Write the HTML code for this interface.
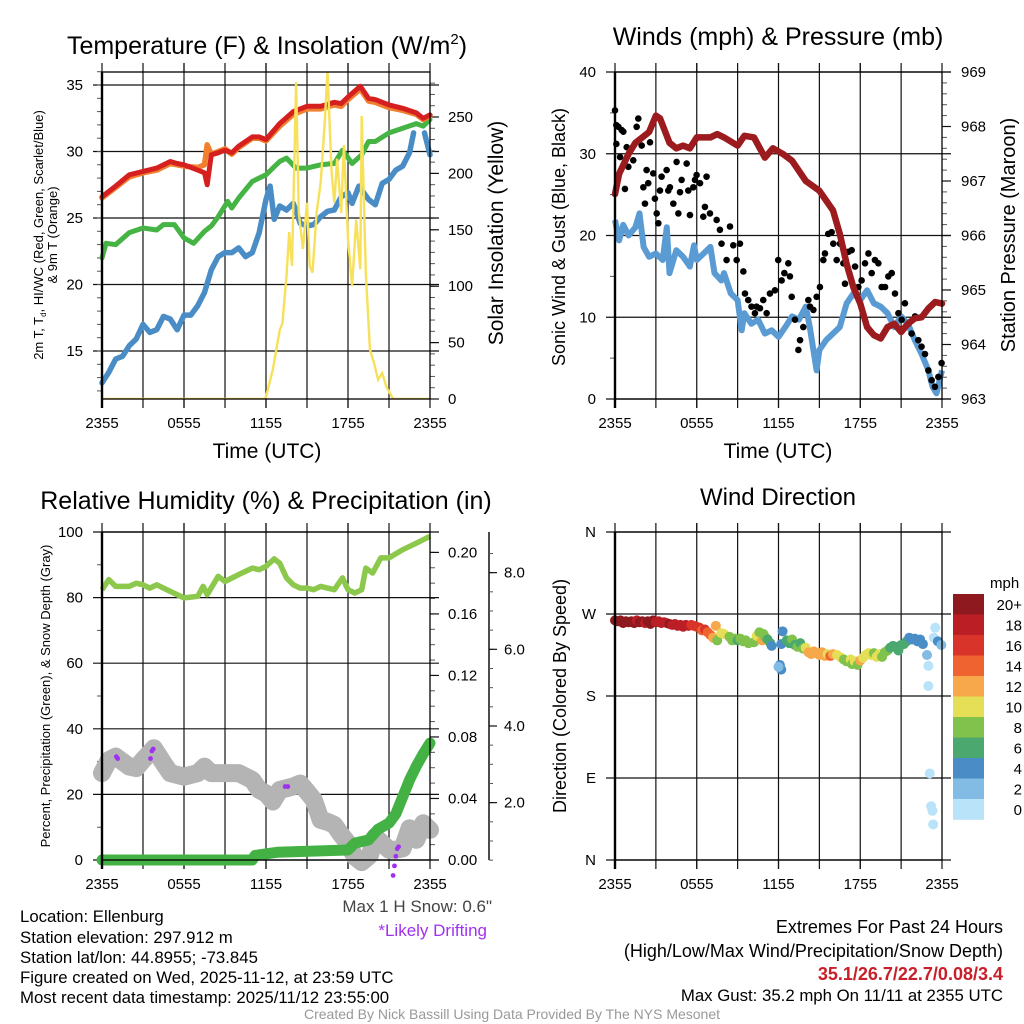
<!DOCTYPE html>
<html><head><meta charset="utf-8">
<style>
html,body{margin:0;padding:0;background:#fff;}
svg{display:block;font-family:"Liberation Sans",Arial,sans-serif;}
</style></head>
<body>
<svg id="fig" width="1024" height="1024" viewBox="0 0 1024 1024" xmlns="http://www.w3.org/2000/svg">
<rect width="1024" height="1024" fill="#fff"/>
<g id="g1"></g>
<g id="g2"></g>
<g id="g3"></g>
<g id="g4"></g>

<text x="267" y="54" font-size="25" text-anchor="middle">Temperature (F) &amp; Insolation (W/m<tspan font-size="15" dy="-10">2</tspan><tspan dy="10">)</tspan></text>
<text x="778" y="45" font-size="25" text-anchor="middle">Winds (mph) &amp; Pressure (mb)</text>
<text x="266" y="509" font-size="25" text-anchor="middle">Relative Humidity (%) &amp; Precipitation (in)</text>
<text x="778" y="505" font-size="24" text-anchor="middle">Wind Direction</text>

<text x="267" y="458" font-size="21" text-anchor="middle">Time (UTC)</text>
<text x="778" y="458" font-size="21" text-anchor="middle">Time (UTC)</text>

<text transform="translate(43,235) rotate(-90)" font-size="13" text-anchor="middle">2m T, T<tspan font-size="8" dy="3">d</tspan><tspan dy="-3">, HI/WC (Red, Green, Scarlet/Blue)</tspan></text>
<text transform="translate(57,235) rotate(-90)" font-size="13" text-anchor="middle">&amp; 9m T (Orange)</text>
<text transform="translate(503,233) rotate(-90)" font-size="21" text-anchor="middle">Solar Insolation (Yellow)</text>
<text transform="translate(565,237) rotate(-90)" font-size="18" text-anchor="middle">Sonic Wind &amp; Gust (Blue, Black)</text>
<text transform="translate(1015,235) rotate(-90)" font-size="20" text-anchor="middle">Station Pressure (Maroon)</text>
<text transform="translate(50,696) rotate(-90)" font-size="13" text-anchor="middle">Percent, Precipitation (Green), &amp; Snow Depth (Gray)</text>
<text transform="translate(566,696) rotate(-90)" font-size="18" text-anchor="middle">Direction (Colored By Speed)</text>

<text x="492" y="912" font-size="17" fill="#444" text-anchor="end">Max 1 H Snow: 0.6"</text>
<text x="487" y="936" font-size="17" fill="#a030f0" text-anchor="end">*Likely Drifting</text>

<g font-size="16.8">
<text x="20" y="922">Location: Ellenburg</text>
<text x="20" y="943">Station elevation: 297.912 m</text>
<text x="20" y="963">Station lat/lon: 44.8955; -73.845</text>
<text x="20" y="983">Figure created on Wed, 2025-11-12, at 23:59 UTC</text>
<text x="20" y="1003">Most recent data timestamp: 2025/11/12 23:55:00</text>
</g>
<g text-anchor="end">
<text x="1003" y="933" font-size="18">Extremes For Past 24 Hours</text>
<text x="1003" y="957" font-size="18">(High/Low/Max Wind/Precipitation/Snow Depth)</text>
<text x="1003" y="980" font-size="18" fill="#c8202a" font-weight="bold">35.1/26.7/22.7/0.08/3.4</text>
<text x="1003" y="1001" font-size="16.8">Max Gust: 35.2 mph On 11/11 at 2355 UTC</text>
</g>
<text x="512" y="1019" font-size="14" fill="#999" text-anchor="middle">Created By Nick Bassill Using Data Provided By The NYS Mesonet</text>
</svg>
<script>
// ---------- data ----------
const xTickLabels = ["2355","0555","1155","1755","2355"];
// Temperature panel
const tHours = [0,1,2,3,4,5,5.5,6,7,7.5,7.7,8,8.5,9,9.5,10,11,11.5,12,13,14,15,16,17,17.5,18,18.9,19.5,20,21,22,23,23.5,24];
const tempRed = [26.6,27.4,28.25,28.5,28.75,29.25,29.1,29.0,28.6,28.4,27.5,29.75,29.9,30.1,29.9,30.4,31.1,31.1,30.9,32.1,33.0,33.4,33.4,33.7,33.6,34.1,34.9,34.0,33.9,33.5,33.25,32.9,32.5,32.75];
const temp9m = [26.5,27.3,28.1,28.4,28.6,29.1,29.0,28.9,28.8,29.0,30.5,29.8,30.0,30.2,29.8,30.3,31.0,31.0,30.8,31.9,32.8,33.2,33.2,33.5,33.4,33.9,34.7,33.8,33.7,33.3,33.1,32.8,32.4,32.7];
const tdHours = [0,0.3,1,2,3,4,4.5,5.3,6,6.7,7.5,8,8.5,9.2,9.5,10,11,12,12.5,13,13.5,14.2,15,16,17,17.6,18.3,19,19.5,20,21,22,23,23.5,24];
const dewpt = [22.0,23.1,23.0,23.9,24.25,24.1,24.5,24.5,23.5,23.1,24.0,24.4,25.1,26.25,25.75,26.5,27.75,28.25,28.75,29.25,29.5,28.75,28.75,29.0,29.1,30.1,29.1,29.75,30.75,30.75,31.4,31.75,32.1,31.9,32.4];
const wcHours = [0,0.5,1,1.5,2,2.5,3,3.5,4,4.5,5,5.5,6,6.5,7,7.5,8,8.5,9,9.5,10,10.5,11,11.5,12,12.3,12.6,13,13.5,14,14.5,15,15.5,16,16.5,17,17.5,18,18.3,18.8,19.5,20,20.5,21,21.5,22,22.5,22.8,23.2,23.6,24];
const windChill = [12.6,13.4,14.4,14.6,15.4,15.9,17.0,16.4,16.6,17.6,17.4,16.6,17.7,17.7,18.4,19.4,21.1,22.1,22.4,22.4,22.75,22.1,22.4,23.9,26.4,27.4,24.9,25.9,25.6,26.1,24.6,24.4,24.5,25.1,25.5,25.6,26.6,26.9,26.1,27.4,26.4,26.0,27.6,27.9,28.6,28.9,29.9,31.4,NaN,31.4,29.75];
const solHours = [0,11.9,12,12.5,13,13.2,13.5,13.7,13.9,14.2,14.4,14.7,15,15.2,15.4,15.7,16,16.3,16.5,16.8,17,17.2,17.5,17.7,18,18.3,18.6,18.9,19,19.3,19.6,19.9,20.2,20.5,20.8,21.3,24];
const solar = [0,0,2,26,61,67,109,148,118,281,165,133,174,118,112,165,192,246,291,201,174,213,165,225,142,100,159,115,251,112,44,32,17,23,11,0,0];
// Wind panel
const presHours = [0,0.3,1,1.5,2,2.5,3,3.3,4,4.5,5,5.5,6,7,7.5,8,9,9.5,10.2,11,11.6,12.3,13,14,15,15.5,16,16.5,17,17.5,18,18.5,19,19.5,20,20.5,21,21.5,22,22.5,23,23.5,24];
const pressure = [966.76,967.13,967.5,967.7,967.8,967.9,968.2,968.15,967.7,967.6,967.65,967.6,967.8,967.8,967.86,967.8,967.65,967.83,967.8,967.43,967.6,967.5,967.37,967.0,966.82,966.64,966.46,966.03,965.48,965.05,964.75,964.32,964.17,964.11,964.32,964.38,964.23,964.38,964.48,964.5,964.66,964.78,964.75];
const wsHours = [0,0.3,0.6,1,1.5,1.8,2.1,2.5,3,3.5,3.8,4,4.5,5,5.5,5.8,6,6.5,7,7.3,7.8,8,8.5,9,9.3,9.5,10,10.5,11,11.5,12,12.5,13,13.5,14,14.3,14.8,15,15.5,16,16.5,17,17.5,18,18.5,19,19.5,20,20.5,21,21.5,22,22.5,23,23.3,23.6,24];
const windSpeed = [21.9,19.4,21.3,20,21,22.7,18.6,17.4,17.8,17.0,21,15.4,18.2,17.4,16.2,18.8,17,17.8,18.6,15.4,14.5,15.4,12.9,12.1,8.4,10.5,9.2,9.7,8.0,8.4,7.6,8.8,10.1,9.7,11.3,8.8,3.5,6,7.2,8.0,8.8,11.7,12.9,12.1,13.3,11.7,11.3,10.5,8.8,10.1,9.2,7.2,5.5,3.5,1.5,0.7,3.5];
const gustHours = [0,0.1,0.1,0.25,0.37,0.49,0.61,0.73,0.86,0.98,1.34,1.59,1.71,1.96,2.08,2.2,2.32,2.44,2.57,2.81,2.93,3.06,3.18,3.3,3.42,3.79,3.91,4.03,4.28,4.52,4.65,4.77,4.89,5.26,5.38,5.5,5.75,5.87,5.99,6.24,6.48,6.6,6.72,6.97,7.46,7.7,7.82,8.19,8.44,8.68,8.93,9.17,9.42,9.54,9.78,10.02,10.27,10.39,10.64,10.88,11.13,11.37,11.74,11.98,12.23,12.43,12.72,12.84,12.97,13.21,13.46,13.58,13.82,14.19,14.31,14.56,14.8,15.04,15.29,15.41,15.65,15.9,16.02,16.27,16.51,16.76,16.88,17.13,17.37,17.62,17.86,18.1,18.35,18.6,18.84,19.08,19.33,19.57,19.82,20.06,20.31,20.55,20.8,21.04,21.28,21.53,21.77,22.02,22.26,22.5,22.75,23.0,23.24,23.48,23.73,23.97];
const gust = [35.3,33.5,31.2,33.3,29.6,32.9,32.7,25.7,30.8,28.4,29.2,33.3,34.3,31.0,25.9,23.9,28,26.4,31.4,27.6,24.5,22.7,21.5,25.5,27.2,28,25.5,25.9,23.9,29,22.7,25.3,26.8,28.8,25.5,22.5,25.9,26.8,27.4,26.4,22.3,23.5,27.2,22.7,21.9,20.7,19,17,21.1,18.8,17,19,15.6,12.9,12.1,11.3,10.5,11.3,11.1,12.1,10.5,12.9,13.3,17,14.5,15.4,16.6,15,12.5,9.7,6,7.2,8.8,12.1,11.3,10.9,12.5,13.7,17,17.8,20.2,20.4,19,17,19,16.6,14.1,18,18.2,16.2,13.7,14.5,16.6,17.8,15.4,17,16.6,13.7,13.7,15,15.4,12.9,10.5,9.7,11.7,9.2,8.0,10.1,7.2,6.4,5.5,3.5,2.3,1.5,2.7,4.4,5.4];
// Humidity panel
const rhHours = [0,0.5,1,2,2.5,3,3.5,4,4.5,5,6,7,7.4,7.7,8.5,9,10,11,11.5,12,12.6,13,13.5,14,14.5,15,15.5,16,16.5,17,17.6,18,18.5,19,19.3,19.8,20.4,21,22,23,24];
const rh = [82.4,85.5,83.4,83.4,84.4,83.9,82.9,83.9,82.9,81.9,79.9,80.4,83.4,80.9,86.5,84.9,87.0,89.0,88.5,89.5,91.8,90.5,86.0,83.9,82.9,82.9,82.4,83.4,82.9,82.4,86.0,82.4,81.4,82.4,89.0,87.5,92.1,92.1,94.6,96.6,98.7];
const snowHours = [0,0.5,1,2,2.5,3,3.8,4.5,5,6,7,7.5,8,9,10,11,11.5,12,12.5,13,14,14.5,15,15.5,16,16.5,17,17.5,18,18.5,19,19.6,20,20.5,21,21.5,22,22.5,23,23.5,24];
const snowDepth = [2.77,3.11,3.2,2.94,2.9,3.11,3.42,3.03,2.77,2.68,2.77,2.94,2.77,2.77,2.77,2.59,2.33,2.24,2.03,2.33,2.42,2.5,2.29,2.07,1.55,1.5,1.42,1.16,0.94,0.59,0.45,0.63,1.11,0.94,0.77,0.77,0.81,1.33,1.03,1.46,1.29];
const precHours = [0,11,11.2,12.8,18,18.5,19.5,20.2,21,21.5,22,22.5,23,23.5,24];
const precip = [0,0,0.003,0.005,0.0065,0.011,0.013,0.02,0.024,0.03,0.041,0.052,0.061,0.069,0.076];
const driftHours = [1.05,1.15,3.55,3.65,3.75,13.4,13.6,21.3,21.4,21.5,21.6,21.7];
const driftDepth = [3.2,3.15,3.15,3.35,3.4,2.42,2.42,0.1,0.35,0.6,0.8,0.85];
// Wind direction panel
const wdHours = [0,0.2,0.4,0.6,0.8,1,1.2,1.4,1.6,1.8,2,2.2,2.4,2.6,2.8,3,3.2,3.4,3.6,3.8,4,4.2,4.4,4.6,4.8,5,5.2,5.4,5.6,5.8,6,6.2,6.4,6.6,6.8,7,7.2,7.4,7.5,7.8,8,8.4,8.6,8.8,9,9.2,9.4,9.6,9.8,10.2,10.4,10.6,10.8,10.9,11,11.2,11.4,11.5,12.2,12.3,12.1,12.2,12,12.6,12.8,13,13.2,13.4,13.6,13.8,14,14.2,14.4,14.6,14.8,15,15.2,15.4,15.6,15.8,16,16.3,16.6,16.8,17,17.3,17.4,17.6,17.8,18,18.2,18.4,18.6,18.8,19,19.2,19.4,19.6,19.8,20,20.2,20.4,20.6,20.8,21,21.2,21.4,21.6,21.8,22,22.2,22.4,22.6,22.9,23,23,23.5,23.4,23.7,23.95,23.1,23.2,23.3,23.35];
const wdDeg = [263,262,263,260,262,261,262,260,263,261,262,260,262,259,263,261,262,260,261,260,259,258,259,257,258,256,258,257,258,257,256,255,252,253,250,247,244,257,241,249,248,245,241,243,241,243,240,241,238,239,246,250,241,248,245,242,238,235,237,251,214,209,212,241,238,242,236,234,238,232,233,228,226,229,227,225,228,224,226,224,226,225,222,220,218,220,215,218,214,219,222,225,227,225,227,223,226,223,228,230,233,235,234,230,236,237,240,244,242,243,240,242,237,225,213,191,255,244,240,236,95,59,54,39];
const wdSpeed = [21,21,20,21,21,20,21,21,19,21,21,19,20,21,21,19,19,18,19,19,20,19,19,19,18,18,19,18,17,17,17,16,15,17,15,14,12,12,8,10,10,8,8,8,7,8,8,8,8,8,10,8,12,9,9,7,6,4,4,4,4,4,3,7,6,8,7,8,7,8,10,12,12,12,12,12,13,12,11,15,12,11,10,9,8,10,8,10,8,13,10,10,11,10,9,10,10,9,8,8,7,6,6,7,6,6,6,4,4,5,4,4,4,3,1,1,1,1,4,3,1,1,1,1];
const speedBinLabels = ["20+","18","16","14","12","10","8","6","4","2","0"];
const speedBinColors = ["#8e1a1f","#bb1e25","#d93429","#ef6330","#f6a84a","#e5df58","#80c24b","#4ba86f","#4a8dc6","#82bbe4","#b8e3f8"];

// ---------- helpers ----------
const NS="http://www.w3.org/2000/svg";
function mk(parent,tag,attrs){const e=document.createElementNS(NS,tag);for(const k in attrs)e.setAttribute(k,attrs[k]);parent.appendChild(e);return e;}
function txt(parent,x,y,s,size,anchor,fill){const t=mk(parent,"text",{x:x,y:y,"font-size":size,"text-anchor":anchor,fill:fill||"#000"});t.textContent=s;return t;}
function pathD(xs,ys,fx,fy){let d="",pen=false;for(let i=0;i<xs.length;i++){const v=ys[i];if(v===null||isNaN(v)){pen=false;continue;}d+=(pen?"L":"M")+fx(xs[i]).toFixed(1)+","+fy(v).toFixed(1);pen=true;}return d;}

function frame(g,P,name){
  for(let h=3;h<24;h+=3){
    const x=P.x(h);
    const l=mk(g,"line",{x1:x,x2:x,y1:P.y0-9,y2:P.y1+9,stroke:"#111","stroke-width":1.2});
    
    
  }
  xTickLabels.forEach((s,i)=>{
    const x=P.x(i*6);
    mk(g,"line",{x1:x,x2:x,y1:P.y1,y2:P.y1+9,stroke:"#111","stroke-width":1.2});
    mk(g,"line",{x1:x,x2:x,y1:P.y0-9,y2:P.y0,stroke:"#111","stroke-width":1.2});
    const t=txt(g,x,P.y1+29,s,15,"middle");
    
    
  });
}
function border(g,P){
  mk(g,"rect",{x:P.x0,y:P.y0,width:P.x1-P.x0,height:P.y1-P.y0,fill:"none",stroke:"#000","stroke-width":1.3});
  mk(g,"line",{x1:P.x0,x2:P.x0,y1:P.y0,y2:P.y1+9,stroke:"#000","stroke-width":2.4});
}
function leftAxis(g,P,vals,fy,labels,name,grid){
  vals.forEach((v,i)=>{
    const y=fy(v);
    if(grid)mk(g,"line",{x1:P.x0-9,x2:P.x1+9,y1:y,y2:y,stroke:"#111","stroke-width":1.2});
    else mk(g,"line",{x1:P.x0-9,x2:P.x0,y1:y,y2:y,stroke:"#111","stroke-width":1.2});
    const t=txt(g,P.x0-19,y+5,labels[i],15,"end");
    
    
  });
}
function minorTicks(g,x,ys,dir,len){ys.forEach(y=>mk(g,"line",{x1:x,x2:x+dir*len,y1:y,y2:y,stroke:"#555","stroke-width":1}));}

// ---------- Panel 1 ----------
(function(){
  const g=document.getElementById("g1");
  const P={x0:102,x1:430,y0:72,y1:399};
  P.x=h=>P.x0+h*(P.x1-P.x0)/24;
  const ty=v=>351-(v-15)*13.3;
  const sy=v=>399-v*1.128;
  frame(g,P,"temp");
  leftAxis(g,P,[15,20,25,30,35],ty,["15","20","25","30","35"],"temp",true);
  const mt=[];for(let v=12;v<=36;v++)mt.push(ty(v));minorTicks(g,P.x0,mt,-1,5);
  const rm=[];for(let v=0;v<=280;v+=10)rm.push(sy(v));minorTicks(g,P.x1,rm,1,5);
  [0,50,100,150,200,250].forEach(v=>{mk(g,"line",{x1:P.x1,x2:P.x1+9,y1:sy(v),y2:sy(v),stroke:"#111","stroke-width":1.2});const t=txt(g,448,sy(v)+5,String(v),15,"start");});
  const clip=mk(g,"clipPath",{id:"c1"});mk(clip,"rect",{x:P.x0,y:P.y0,width:P.x1-P.x0,height:P.y1-P.y0});
  const s=[[wcHours,windChill,"#4a8dc6",5.5,"windchill-line"],[tdHours,dewpt,"#45b445",5,"dewpoint-line"],[tHours,temp9m,"#f08030",5.5,"temp-9m-line"],[tHours,tempRed,"#d62020",5,"temp-2m-line"]];
  s.forEach(a=>{const p=mk(g,"path",{d:pathD(a[0],a[1],P.x,ty),fill:"none",stroke:a[2],"stroke-width":a[3],"stroke-linejoin":"round","stroke-linecap":"round"});});
  const sp=mk(g,"path",{d:pathD(solHours,solar,P.x,sy),fill:"none",stroke:"#f7e05a","stroke-width":2.4,"clip-path":"url(#c1)"});
  
  
  border(g,P);
})();

// ---------- Panel 2 ----------
(function(){
  const g=document.getElementById("g2");
  const P={x0:615,x1:942,y0:72,y1:399};
  P.x=h=>P.x0+h*(P.x1-P.x0)/24;
  const wy=v=>399-v*8.175;
  const py=p=>399-(p-963)*54.5;
  frame(g,P,"wind");
  leftAxis(g,P,[0,10,20,30,40],wy,["0","10","20","30","40"],"wind",true);
  minorTicks(g,P.x0,[wy(5),wy(15),wy(25),wy(35)],-1,5);
  const rm=[];for(let p=963;p<=969;p+=0.2)rm.push(py(p));minorTicks(g,P.x1,rm,1,5);
  [963,964,965,966,967,968,969].forEach(v=>{mk(g,"line",{x1:P.x1,x2:P.x1+9,y1:py(v),y2:py(v),stroke:"#111","stroke-width":1.2});const t=txt(g,961,py(v)+5,String(v),15,"start");});
  const b=mk(g,"path",{d:pathD(wsHours,windSpeed,P.x,wy),fill:"none",stroke:"#5a9bd4","stroke-width":6,"stroke-linejoin":"round"});
  
  
  gustHours.forEach((h,i)=>{
    const c=mk(g,"circle",{cx:P.x(h),cy:wy(gust[i]),r:3.3,fill:"#000"});
    
    
  });
  const m=mk(g,"path",{d:pathD(presHours,pressure,P.x,py),fill:"none",stroke:"#9b1b1e","stroke-width":6.5,"stroke-linejoin":"round","stroke-linecap":"round"});
  
  
  border(g,P);
})();

// ---------- Panel 3 ----------
(function(){
  const g=document.getElementById("g3");
  const P={x0:102,x1:430,y0:532,y1:860};
  P.x=h=>P.x0+h*(P.x1-P.x0)/24;
  const ry=v=>860-v*3.28;
  const qy=v=>860-v*1538;
  const sny=v=>879.3-v*38.33;
  frame(g,P,"humidity");
  leftAxis(g,P,[0,20,40,60,80,100],ry,["0","20","40","60","80","100"],"humidity",true);
  minorTicks(g,P.x0,[ry(10),ry(30),ry(50),ry(70),ry(90)],-1,5);
  const rm=[];for(let v=0;v<=0.21;v+=0.01)rm.push(qy(v));minorTicks(g,P.x1,rm,1,5);
  [0,0.04,0.08,0.12,0.16,0.20].forEach(v=>{mk(g,"line",{x1:P.x1,x2:P.x1+9,y1:qy(v),y2:qy(v),stroke:"#111","stroke-width":1.2});const t=txt(g,448,qy(v)+5,v.toFixed(2),15,"start");});
  const ax=mk(g,"line",{x1:489,x2:489,y1:532,y2:860,stroke:"#111","stroke-width":1.5});
  
  
  const sm=[];for(let v=0.5;v<=8.5;v+=0.5)sm.push(sny(v));minorTicks(g,489,sm,1,4);
  [2,4,6,8].forEach(v=>{mk(g,"line",{x1:489,x2:497,y1:sny(v),y2:sny(v),stroke:"#111","stroke-width":1.2});const t=txt(g,504,sny(v)+5,v.toFixed(1),15,"start");});
  const clip=mk(g,"clipPath",{id:"c3"});mk(clip,"rect",{x:P.x0-12,y:P.y0,width:P.x1-P.x0+24,height:P.y1-P.y0+12});
  const s=mk(g,"path",{d:pathD(snowHours,snowDepth,P.x,sny),fill:"none",stroke:"#b4b4b4","stroke-width":18,"stroke-linejoin":"round","stroke-linecap":"round","clip-path":"url(#c3)"});
  
  
  driftHours.forEach((h,i)=>{
    const c=mk(g,"circle",{cx:P.x(h),cy:sny(driftDepth[i]),r:2.4,fill:"#a030f0"});
    
    
  });
  const q=mk(g,"path",{d:pathD(precHours,precip,P.x,qy),fill:"none",stroke:"#44b144","stroke-width":11,"stroke-linejoin":"round","stroke-linecap":"round"});
  
  
  const r=mk(g,"path",{d:pathD(rhHours,rh,P.x,ry),fill:"none",stroke:"#8cc84b","stroke-width":5.5,"stroke-linejoin":"round"});
  
  
  border(g,P);
})();

// ---------- Panel 4 ----------
(function(){
  const g=document.getElementById("g4");
  const P={x0:615,x1:942,y0:532,y1:860};
  P.x=h=>P.x0+h*(P.x1-P.x0)/24;
  const dy=d=>860-d*0.9111;
  frame(g,P,"direction");
  leftAxis(g,P,[360,270,180,90,0],dy,["N","W","S","E","N"],"direction",true);
  wdHours.forEach((h,i)=>{
    const idx=Math.max(0,10-Math.min(10,Math.floor(wdSpeed[i]/2)));
    const c=mk(g,"circle",{cx:P.x(h),cy:dy(wdDeg[i]),r:5,fill:speedBinColors[idx]});
    
    
  });
  border(g,P);
  const lg=mk(g,"g",{});
  
  
  const t=txt(lg,990,588,"mph",15,"start");
  
  
  speedBinLabels.forEach((s,i)=>{
    const y=594+i*20.5;
    const r=mk(lg,"rect",{x:953,y:y,width:31,height:20.8,fill:speedBinColors[i]});
    
    
    const l=txt(lg,1022,y+16,s,15,"end");
    
    
  });
})();
</script>
</body></html>
